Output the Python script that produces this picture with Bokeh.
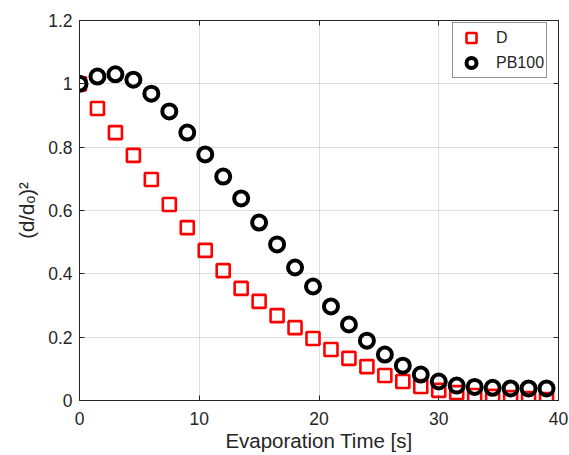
from bokeh.plotting import figure
from bokeh.models import LinearAxis, Range1d, FixedTicker, CustomJSTickFormatter, Legend, LegendItem
from bokeh.embed import file_html
from bokeh.resources import INLINE

time_s = [0, 1.5, 3, 4.5, 6, 7.5, 9, 10.5, 12, 13.5, 15, 16.5, 18, 19.5, 21, 22.5,
          24, 25.5, 27, 28.5, 30, 31.5, 33, 34.5, 36, 37.5, 39]
d_values = [1.0, 0.922, 0.846, 0.774, 0.698, 0.619, 0.546, 0.474, 0.41, 0.354, 0.313,
            0.268, 0.23, 0.196, 0.161, 0.133, 0.107, 0.079, 0.06, 0.044, 0.032, 0.025,
            0.016, 0.013, 0.009, 0.006, 0.003]
pb100_values = [1.0, 1.023, 1.03, 1.013, 0.969, 0.913, 0.846, 0.777, 0.707, 0.638, 0.562,
                0.493, 0.42, 0.36, 0.297, 0.24, 0.189, 0.145, 0.11, 0.082, 0.06, 0.047,
                0.043, 0.04, 0.038, 0.038, 0.038]
x_ticks = [0, 10, 20, 30, 40]
y_ticks = [0, 0.2, 0.4, 0.6, 0.8, 1.0, 1.2]
series_names = ["D", "PB100"]

FONT = "Liberation Sans"
DARK = "#262626"

p = figure(width=569, height=455, output_backend="svg", toolbar_location=None,
           x_range=Range1d(0, 40), y_range=Range1d(0, 1.2),
           min_border_left=79, min_border_right=11, min_border_top=20, min_border_bottom=55,
           background_fill_color="white", border_fill_color="white")
p.outline_line_color = DARK

fmt = CustomJSTickFormatter(code="return Number(tick.toFixed(2)).toString()")
blank = CustomJSTickFormatter(code="return ''")

def style_axis(ax, ticks, labels=True):
    ax.ticker = FixedTicker(ticks=ticks)
    ax.axis_line_color = DARK
    ax.major_tick_line_color = DARK
    ax.major_tick_in = 5
    ax.major_tick_out = 0
    ax.minor_tick_line_color = None
    if labels:
        ax.major_label_text_font = FONT
        ax.major_label_text_font_size = "17.5px"
        ax.major_label_text_color = DARK
        ax.axis_label_text_font = FONT
        ax.axis_label_text_font_size = "20.5px"
        ax.axis_label_text_font_style = "normal"
        ax.axis_label_text_color = DARK
    else:
        ax.formatter = blank
        ax.major_label_standoff = 0

xa = p.xaxis[0]
ya = p.yaxis[0]
style_axis(xa, x_ticks)
style_axis(ya, y_ticks)
xa.axis_label = "Evaporation Time [s]"
ya.axis_label = "(d/dₒ)²"
ya.formatter = fmt
xa.major_label_standoff = 11
xa.axis_label_standoff = 1
ya.major_label_standoff = 7
ya.axis_label_standoff = 7

top = LinearAxis()
style_axis(top, x_ticks, labels=False)
p.add_layout(top, "above")
right = LinearAxis()
style_axis(right, y_ticks, labels=False)
p.add_layout(right, "right")

p.xgrid.ticker = FixedTicker(ticks=x_ticks)
p.ygrid.ticker = FixedTicker(ticks=y_ticks)
for g in (p.xgrid, p.ygrid):
    g.grid_line_color = DARK
    g.grid_line_alpha = 0.15

r_d = p.scatter(time_s, d_values, marker="square", size=13, fill_color=None,
                line_color="#ff0000", line_width=2.6)
r_pb = p.scatter(time_s, pb100_values, marker="circle", size=14, fill_color=None,
                 line_color="black", line_width=4)

legend = Legend(items=[LegendItem(label=series_names[0], renderers=[r_d]),
                       LegendItem(label=series_names[1], renderers=[r_pb])],
                location=(373, 322), padding=2, spacing=0,
                glyph_width=32, glyph_height=25, label_standoff=9, label_height=20,
                label_text_font=FONT, label_text_font_size="16px", label_text_color=DARK,
                border_line_color=DARK, border_line_width=1, background_fill_alpha=1)
p.add_layout(legend, "center")

open("out.html", "w").write(file_html(p, INLINE))
